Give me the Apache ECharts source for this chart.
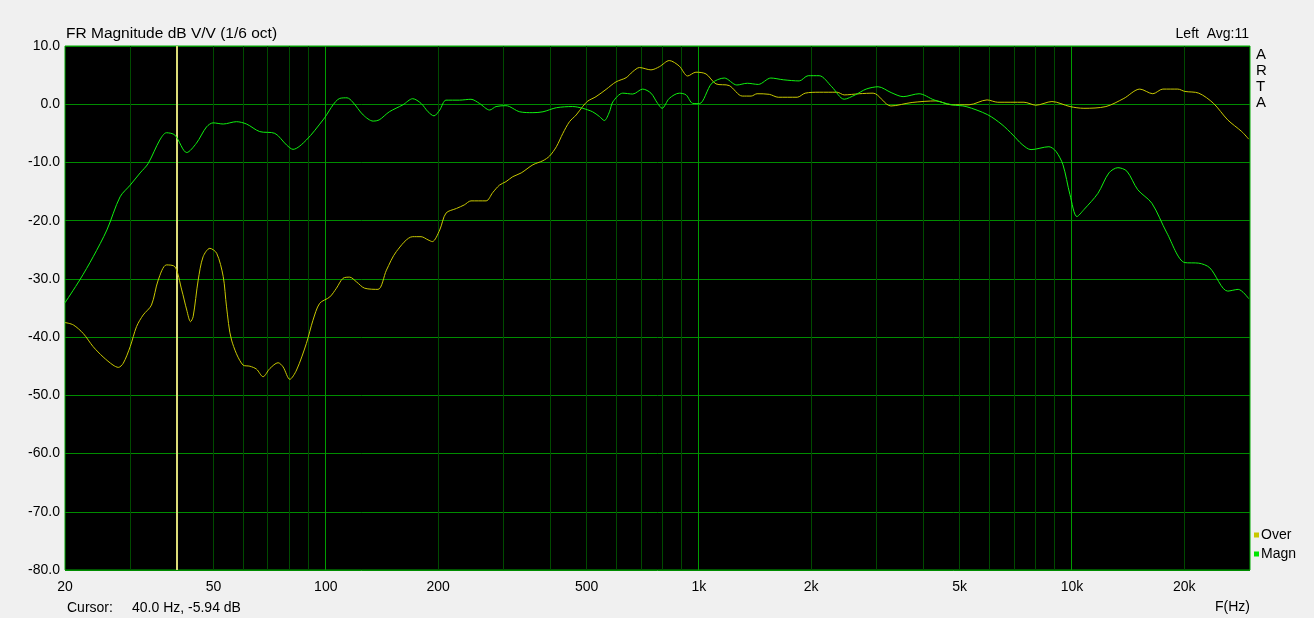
<!DOCTYPE html>
<html>
<head>
<meta charset="utf-8">
<script src="https://cdn.jsdelivr.net/npm/echarts@6/dist/echarts.min.js"></script>
<style>
html,body{margin:0;padding:0;background:#f0f0f0;}
#chart{width:1314px;height:618px;}
</style>
</head>
<body>
<div id="chart"></div>
<script>
// ---- data ----
const magnFreq = [20,21.9,23.8,25.9,28.1,29.9,31.8,33.4,35.9,37.4,39.4,42.4,45.0,47.9,49.9,53.1,57.6,61.3,66.5,73.0,78.5,81.7,88.7,98.3,109,114,118,126,134,139,148,161,171,180,188,195,202,210,228,245,258,275,286,304,331,359,382,415,459,488,519,541,558,576,588,625,665,707,744,775,797,833,886,924,962,1003,1083,1170,1264,1348,1443,1559,1683,1857,1963,2101,2271,2452,2624,2807,3023,3275,3527,3892,4269,4771,5201,5942,6493,6950,7347,7765,8674,9058,9458,9874,10310,10764,11737,12560,13276,14032,15013,16370,17958,20062,21868,23404,26154,27902,29766];
const magnDb = [-34.1,-30.2,-26.2,-21.6,-15.9,-13.9,-11.8,-10.2,-6.15,-4.9,-5.3,-8.3,-6.7,-3.9,-3.2,-3.4,-3.0,-3.4,-4.7,-5.0,-7.0,-7.75,-6.15,-2.7,1.0,1.1,0.4,-1.85,-2.9,-2.7,-1.3,-0.1,0.95,0.15,-1.3,-2.0,-1.0,0.7,0.7,0.85,0.15,-1.0,-0.4,-0.25,-1.3,-1.45,-1.3,-0.6,-0.4,-0.7,-1.3,-2.1,-2.8,-1.3,0.4,1.9,1.75,2.6,1.9,0.15,-0.7,1.0,1.9,1.6,0.15,0.1,3.6,4.5,3.3,3.6,3.4,4.5,4.2,4.0,4.9,4.9,3.0,0.86,1.6,2.6,3.0,2.0,1.3,1.8,0.74,-0.1,-0.4,-1.8,-3.5,-5.3,-6.9,-7.8,-7.3,-8.1,-10.4,-15.5,-19.3,-18.1,-15.3,-11.8,-10.9,-11.5,-14.7,-17.0,-22.1,-27.2,-27.3,-28.1,-32.1,-31.8,-33.4];

const overFreq = [20,21.05,22.4,23.8,25.3,26.9,27.8,28.65,29.9,31.1,32.4,34.1,35.55,37.4,39.4,41.1,42.4,43.4,44.1,45.5,46.9,48.9,51.0,53.1,54.2,55.9,60.0,62.6,65.2,67.9,70.8,74.5,76.8,80.1,83.5,88.7,92.4,96.3,102.5,106.8,111.2,115.9,120.8,127.1,138.0,145.4,154.6,171,180,188,193,202,210,224,235,245,269,280,292,304,317,334,359,382,398,415,432,450,469,488,504,530,564,600,638,665,693,744,784,833,886,933,982,1045,1111,1206,1307,1381,1432,1544,1632,1835,1927,2101,2347,2452,2690,2931,3271,3728,4322,4742,5298,5920,6326,7436,8008,8836,9874,10764,12330,13776,15200,16472,17518,19214,20062,21868,23930,26154,28510,29766];
const overDb = [-37.5,-37.9,-39.4,-41.65,-43.4,-44.8,-45.2,-44.5,-41.65,-38.2,-36.2,-34.5,-30.2,-27.6,-27.9,-31.9,-35.35,-37.35,-36.5,-30.2,-26.2,-24.75,-25.6,-29.6,-34.8,-40.5,-44.8,-45.0,-45.5,-46.8,-45.4,-44.4,-45.1,-47.25,-45.65,-41.1,-37.1,-34.2,-33.1,-31.6,-29.9,-29.7,-30.5,-31.6,-31.8,-28.5,-25.3,-22.75,-22.75,-23.3,-23.6,-21.6,-18.7,-17.9,-17.3,-16.6,-16.6,-15.2,-13.9,-13.3,-12.45,-11.8,-10.4,-9.7,-8.9,-7.3,-5.0,-3.0,-1.85,-0.4,0.55,1.3,2.55,3.85,4.55,5.6,6.3,5.9,6.45,7.5,6.55,4.85,5.5,5.2,3.5,3.2,1.4,1.4,1.8,1.7,1.2,1.2,1.9,2.06,2.06,1.6,1.8,1.9,-0.3,0.3,0.57,-0.1,-0.1,0.74,0.34,0.34,-0.17,0.46,-0.4,-0.7,-0.4,1.0,2.6,1.8,2.6,2.6,2.2,1.9,0.17,-2.7,-4.7,-6.0];

const tickFreqs = [20,50,100,200,500,1000,2000,5000,10000,20000];
const tickLabels = ['20','50','100','200','500','1k','2k','5k','10k','20k'];
const gridFreqs = [30,50,60,70,80,90,100,200,300,400,500,600,700,800,900,1000,2000,3000,4000,5000,6000,7000,8000,9000,10000,20000];
const decadeFreqs = [100,1000,10000];
const cursorFreq = 40;
const xMin = 20, xMax = 30000, yMin = -80, yMax = 10, yStep = 10;

const FONT = '"Liberation Sans", Arial, sans-serif';

function zip(a, b) { const n = Math.min(a.length, b.length); const r = []; for (let i = 0; i < n; i++) r.push([a[i], b[i]]); return r; }

const chart = echarts.init(document.getElementById('chart'), null, {renderer: 'canvas'});

function txt(id, x, y, text, size, align) {
  return {type: 'text', id: id, x: x, y: y, silent: true,
    style: {text: text, font: size + 'px ' + FONT, fill: '#000', align: align, verticalAlign: 'middle'}};
}

const baseGraphics = [
  txt('title', 66, 34, 'FR Magnitude dB V/V (1/6 oct)', 15.5, 'left'),
  txt('avg', 1249, 34.5, 'Left  Avg:11', 14, 'right'),
  txt('a1', 1256, 54.5, 'A', 15, 'left'),
  txt('r', 1256, 70.5, 'R', 15, 'left'),
  txt('t', 1256, 86.5, 'T', 15, 'left'),
  txt('a2', 1256, 102.5, 'A', 15, 'left'),
  txt('cur1', 67, 608.5, 'Cursor:', 14, 'left'),
  txt('cur2', 132, 608.5, '40.0 Hz, -5.94 dB', 14, 'left'),
  txt('fhz', 1250, 607.5, 'F(Hz)', 14, 'right')
];

// vertical line renderer (through the axis scale, snapped to pixel centres)
function vLine(colorFn, width) {
  return function (params, api) {
    const f = api.value(0);
    const top = api.coord([f, yMax]);
    const bot = api.coord([f, yMin]);
    const x = Math.floor(top[0]) + (width % 2 ? 0.5 : 0);
    return {type: 'line', silent: true,
      shape: {x1: x, y1: top[1], x2: x, y2: bot[1]},
      style: {stroke: colorFn(f), lineWidth: width}};
  };
}

const option = {
  backgroundColor: '#f0f0f0',
  animation: false,
  grid: {left: 65, right: 64, top: 46, bottom: 48, show: true, backgroundColor: '#000', borderColor: '#00a800', borderWidth: 1},
  xAxis: {
    type: 'log', logBase: 10, min: xMin, max: xMax,
    axisLine: {show: false}, axisTick: {show: false}, axisLabel: {show: false}, splitLine: {show: false}
  },
  yAxis: {
    type: 'value', min: yMin, max: yMax, interval: yStep,
    axisLine: {show: false}, axisTick: {show: false},
    axisLabel: {color: '#000', fontSize: 14, fontFamily: FONT, margin: 5, formatter: v => v.toFixed(1)},
    splitLine: {show: true, lineStyle: {color: '#008c00', width: 1}}
  },
  legend: {
    orient: 'vertical', left: 1254, top: 528, itemWidth: 5, itemHeight: 5, itemGap: 5, icon: 'rect',
    padding: 0, selectedMode: false,
    textStyle: {color: '#000', fontSize: 14, fontFamily: FONT, padding: [0, 0, 0, -3]},
    data: ['Over', 'Magn']
  },
  graphic: baseGraphics,
  series: [
    {
      name: 'grid-v', type: 'custom', z: 1, silent: true, clip: true,
      data: gridFreqs.map(f => [f]), encode: {x: 0},
      renderItem: vLine(f => decadeFreqs.indexOf(f) >= 0 ? '#009c00' : '#004a00', 1)
    },
    {
      name: 'cursor', type: 'custom', z: 2, silent: true, clip: true,
      data: [[cursorFreq]], encode: {x: 0},
      renderItem: vLine(() => '#dcdc78', 2)
    },
    {
      name: 'Over', type: 'line', data: zip(overFreq, overDb), z: 3,
      showSymbol: false, smooth: 0.3, color: '#c8c800',
      lineStyle: {width: 1, color: '#c8c800'}
    },
    {
      name: 'Magn', type: 'line', data: zip(magnFreq, magnDb), z: 4,
      showSymbol: false, smooth: 0.3, color: '#00e600',
      lineStyle: {width: 1, color: '#10f010'}
    }
  ]
};
chart.setOption(option);

// x tick labels placed through the axis scale
const tickGraphics = tickFreqs.map((f, i) => {
  const p = chart.convertToPixel({gridIndex: 0}, [f, yMin]);
  return txt('xt' + i, p[0], p[1] + 17, tickLabels[i], 14, 'center');
});
chart.setOption({graphic: baseGraphics.concat(tickGraphics)});
</script>
</body>
</html>
